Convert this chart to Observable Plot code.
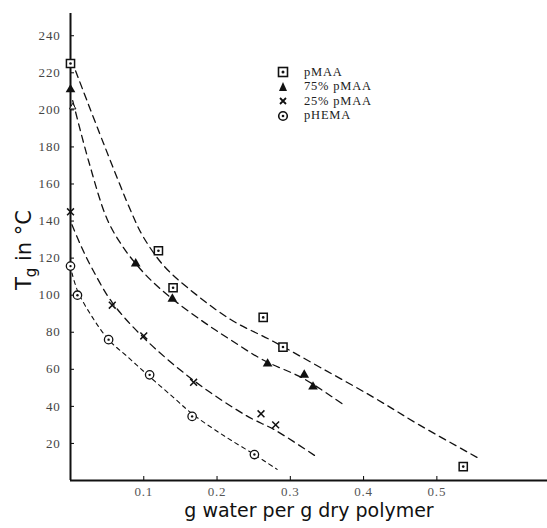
<!DOCTYPE html>
<html><head><meta charset="utf-8">
<script src="https://cdn.jsdelivr.net/npm/d3@7"></script>
<script src="https://cdn.jsdelivr.net/npm/@observablehq/plot@0.6"></script>
<style>
body{margin:0;background:#fff;}
#wrap{position:relative;width:547px;height:528px;}
#ylab{position:absolute;left:26px;top:250px;transform:translate(-50%,-50%) rotate(-90deg);font:21px "DejaVu Sans";white-space:nowrap;color:#111}
#ylab sub{font-size:15px;}
#legend{position:absolute;left:276px;top:65px;font:12.5px "Liberation Serif";letter-spacing:0.8px;color:#222}
#legend div{height:14.5px;display:flex;align-items:center}
#legend svg{width:14px;height:14px;margin-right:14px}
svg text{letter-spacing:0.8px}
</style></head>
<body><div id="wrap"></div>
<script>
// measured points
const pMAA_x = [0, 0.12, 0.14, 0.263, 0.29, 0.536];
const pMAA_y = [225, 124, 104, 88, 72, 7.5];
const p75_x = [0, 0.089, 0.139, 0.269, 0.319, 0.331];
const p75_y = [211, 117, 98, 63, 57, 50.6];
const p75open_x = [0.003];
const p75open_y = [201.5];
const p25_x = [0, 0.057, 0.1, 0.168, 0.26, 0.28];
const p25_y = [145, 94.6, 78, 53, 36, 30];
const pHEMA_x = [0, 0.0095, 0.052, 0.108, 0.166, 0.251];
const pHEMA_y = [115.7, 100, 76, 57, 34.6, 14];
// dashed fit curves
const cMAA_x = [0.007, 0.045, 0.085, 0.1, 0.127, 0.16, 0.218, 0.277, 0.341, 0.413, 0.476, 0.557];
const cMAA_y = [221, 182, 143, 131, 116, 104, 87, 75, 61, 45, 30, 12];
const c75_x = [0.003, 0.025, 0.05, 0.07, 0.089, 0.11, 0.139, 0.18, 0.218, 0.263, 0.318, 0.374];
const c75_y = [205, 172, 141, 127, 117, 108, 98, 86, 76, 65, 55, 40.5];
const c25_x = [0.002, 0.015, 0.03, 0.057, 0.1, 0.168, 0.24, 0.28, 0.335];
const c25_y = [138, 126, 114, 96, 77, 54, 35, 27, 13];
const cHEMA_x = [0.002, 0.01, 0.03, 0.052, 0.08, 0.108, 0.14, 0.166, 0.21, 0.251, 0.282];
const cHEMA_y = [112, 102, 88, 76, 66, 56, 45, 36, 24, 14, 6];
const xTicks = [0.1, 0.2, 0.3, 0.4, 0.5];
const yTicks = [20, 40, 60, 80, 100, 120, 140, 160, 180, 200, 220, 240];
const xLabel = "g water per g dry polymer";

const pts = (xs, ys) => xs.map((x, i) => ({x, y: ys[i]}));
const lineOpts = (dash) => ({x: "x", y: "y", stroke: "#111", strokeWidth: 1.3, strokeDasharray: dash, curve: "catmull-rom"});

const chart = Plot.plot({
  width: 547, height: 528,
  marginLeft: 70, marginRight: 0, marginTop: 13, marginBottom: 48,
  x: {domain: [0, 0.651]},
  y: {domain: [0, 252]},
  style: {background: "#fff"},
  marks: [
    Plot.axisX(xTicks, {tickSize: -4, tickPadding: 10, tickFormat: d => d.toFixed(1), fontFamily: "Liberation Serif", fontSize: 13, fill: "#555", label: null}),
    Plot.axisY(yTicks, {tickSize: -4, tickPadding: 14, fontFamily: "Liberation Serif", fontSize: 13, fill: "#444", label: null}),
    Plot.ruleX([0], {stroke: "#111", strokeWidth: 2}),
    Plot.ruleY([0], {stroke: "#111", strokeWidth: 2}),
    Plot.line(pts(cMAA_x, cMAA_y), lineOpts("7,5")),
    Plot.line(pts(c75_x, c75_y), lineOpts("7,5")),
    Plot.line(pts(c25_x, c25_y), lineOpts("7,5")),
    Plot.line(pts(cHEMA_x, cHEMA_y), {...lineOpts("4,4"), strokeWidth: 1.1}),
    Plot.dot(pts(pMAA_x, pMAA_y), {x: "x", y: "y", symbol: "square", r: 4.6, stroke: "#111", strokeWidth: 1.5, fill: "#fff"}),
    Plot.dot(pts(pMAA_x, pMAA_y), {x: "x", y: "y", r: 1.3, fill: "#111"}),
    Plot.dot(pts(p75_x, p75_y), {x: "x", y: "y", symbol: "triangle", r: 3.6, fill: "#111"}),
    Plot.dot(pts(p75open_x, p75open_y), {x: "x", y: "y", symbol: "triangle", r: 2.4, stroke: "#111", strokeWidth: 1, fill: "#fff"}),
    Plot.dot(pts(p25_x, p25_y), {x: "x", y: "y", symbol: "times", r: 3.2, stroke: "#111", strokeWidth: 1.5}),
    Plot.dot(pts(pHEMA_x, pHEMA_y), {x: "x", y: "y", symbol: "circle", r: 4.2, stroke: "#111", strokeWidth: 1.3, fill: "#fff"}),
    Plot.dot(pts(pHEMA_x, pHEMA_y), {x: "x", y: "y", r: 1.2, fill: "#111"}),
    Plot.text([xLabel], {frameAnchor: "bottom", dy: 36, text: d => d, fontFamily: "DejaVu Sans", fontSize: 19, fill: "#111", style: "letter-spacing:0"})
  ]
});
const wrap = document.getElementById("wrap");
wrap.appendChild(chart);
chart.querySelectorAll("text").forEach(t => { if (t.textContent === xLabel) t.style.letterSpacing = "0px"; });

const yl = document.createElement("div");
yl.id = "ylab";
yl.innerHTML = "T<sub>g</sub> in °C";
wrap.appendChild(yl);

const legendItems = [
  {label: "pMAA", svg: '<rect x="2.5" y="2.5" width="9" height="9" fill="none" stroke="#111" stroke-width="1.6"/><circle cx="7" cy="7" r="1.5" fill="#111"/>'},
  {label: "75% pMAA", svg: '<path d="M7,2 L11,11 L3,11 Z" fill="#111"/>'},
  {label: "25% pMAA", svg: '<path d="M4,4 L10,10 M10,4 L4,10" stroke="#111" stroke-width="1.8"/>'},
  {label: "pHEMA", svg: '<circle cx="7" cy="7" r="4.3" fill="none" stroke="#111" stroke-width="1.6"/><circle cx="7" cy="7" r="1.3" fill="#111"/>'}
];
const lg = document.createElement("div");
lg.id = "legend";
lg.innerHTML = legendItems.map(d => `<div><svg viewBox="0 0 14 14">${d.svg}</svg><span>${d.label}</span></div>`).join("");
wrap.appendChild(lg);
</script>
</body></html>
